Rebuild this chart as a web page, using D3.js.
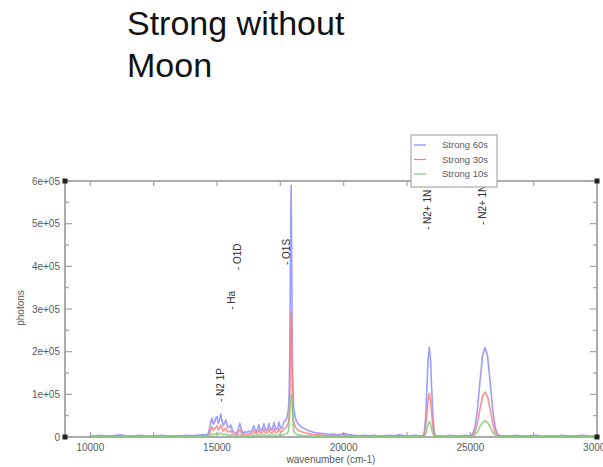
<!DOCTYPE html>
<html>
<head>
<meta charset="utf-8">
<script src="https://cdn.jsdelivr.net/npm/d3@7"></script>
<style>
  html, body { margin: 0; padding: 0; background: #fff; }
  svg { display: block; font-family: "Liberation Sans", Arial, sans-serif; }
</style>
</head>
<body>
<svg id="chart" width="603" height="467"></svg>
<script>
// Spectrum sample positions (cm-1)
const wavenumbers = [
  10000,10200,10400,10600,10800,11000,11200,11400,11600,11800,12000,12200,12400,12600,12800,13000,13200,13400,13600,13800,14000,14200,14400,14600,
  14650,14700,14750,14800,14850,14900,14950,15000,15050,15100,15150,15200,15250,15300,15350,15400,15450,15500,15550,15600,15650,15700,15750,15800,15850,15900,15950,
  16000,16050,16100,16150,16200,16250,16300,16350,16400,16450,16500,16550,16600,16650,16700,16750,16800,16850,16900,16950,17000,17050,17100,17150,17200,17250,17300,17350,17400,17450,17500,17550,17600,17650,
  17700,17750,17800,17825,17850,17875,17900,17925,17950,17975,18000,18025,18050,18100,18150,18200,18300,
  18400,18600,18800,19000,19200,19400,19600,19800,20000,20200,20400,20600,20800,21000,21200,21400,21600,21800,22000,22200,22400,22600,22800,23000,
  23130,23180,23230,23280,23330,23380,23430,23480,23530,23580,23630,
  23800,24000,24200,24400,24600,24800,
  24980,25080,25180,25280,25380,25480,25580,25680,25780,25880,25980,26080,26180,
  26400,26600,26800,27000,27200,27400,27600,27800,28000,28200,28400,28600,28800,29000,29200,29400,29600,29800,30000
];

// Counts in thousands of photons
const strong60s = [
  3,2,4,3,2,4,5,3,2,3,4,3,2,3,4,3,2,3,3,4,3,4,5,6,
  8,18,34,44,30,34,44,48,32,40,54,38,27,33,40,27,22,24,28,17,12,10,9,12,22,32,21,
  11,9,13,10,12,14,11,13,18,26,17,13,19,29,18,14,20,31,19,15,21,32,20,16,22,34,21,17,23,35,22,20,28,36,
  38,44,58,72,105,200,420,590,410,190,105,72,58,44,36,31,25,
  21,15,11,9,8,6,7,5,8,6,4,3,4,3,4,2,3,4,3,5,3,3,4,3,
  3,10,40,105,180,210,180,105,40,10,3,
  3,2,4,3,3,4,
  3,6,22,65,130,190,210,190,130,65,22,6,3,
  3,2,4,3,2,3,4,2,3,3,2,4,3,2,3,4,3,2,3
];

const strong30s = [
  2,1,2,2,1,2,2,2,1,2,2,1,2,2,2,1,2,2,2,2,2,2,3,3,
  4,9,17,24,16,18,23,26,17,21,28,20,14,17,21,14,12,13,15,9,6,5,5,6,12,17,11,
  6,5,7,5,6,8,6,7,10,15,9,7,11,17,10,8,11,18,11,9,12,19,11,9,12,19,12,10,13,20,13,12,16,20,
  21,24,31,38,55,100,215,295,205,95,52,37,30,23,19,16,13,
  11,8,6,5,4,3,4,3,4,3,2,2,3,2,2,1,2,2,2,3,2,2,2,2,
  2,5,20,52,88,102,86,50,19,5,2,
  2,1,2,2,1,2,
  2,4,11,33,66,95,105,95,66,33,11,4,2,
  2,1,2,2,1,2,2,1,2,1,1,2,2,1,2,2,1,1,2
];

const strong10s = [
  1,1,1,1,1,1,1,1,1,1,1,1,1,1,1,1,1,1,1,1,1,1,1,1,
  2,3,6,8,5,6,8,9,6,7,10,7,5,6,7,5,4,4,5,3,2,2,2,2,4,6,4,
  2,2,2,2,2,3,2,2,3,5,3,2,4,6,3,3,4,6,4,3,4,6,4,3,4,7,4,3,4,7,4,4,5,6,
  7,8,11,16,30,62,88,98,86,58,30,16,11,8,6,5,4,
  3,3,2,2,2,1,2,1,2,1,1,1,1,1,1,1,1,1,1,1,1,1,1,1,
  1,2,6,17,30,36,30,16,6,2,1,
  1,1,1,1,1,1,
  1,2,5,12,24,34,38,34,24,12,5,2,1,
  1,1,1,1,1,1,1,1,1,1,1,1,1,1,1,1,1,1,1
];

const seriesNames = ["Strong 60s", "Strong 30s", "Strong 10s"];
const seriesColors = ["#8d8cff", "#ff7d7d", "#7fcf7f"];

// Emission line labels: text, wavenumber of the label, height (thousands of photons) where text starts
const lineLabels = ["- N2 1P", "- Ha", "- O1D", "- O1S", "- N2+ 1N", "- N2+ 1N"];
const lineLabelWavenumbers = [15257, 15730, 15928, 17862, 23467, 25638];
const lineLabelHeights = [82, 298, 391, 403, 485, 497];

const xTickValues = [10000, 15000, 20000, 25000, 30000];
const xTickLabels = ["10000", "15000", "20000", "25000", "30000"];
const yTickValues = [0, 100, 200, 300, 400, 500, 600];
const yTickLabels = ["0", "1e+05", "2e+05", "3e+05", "4e+05", "5e+05", "6e+05"];

const titleLines = ["Strong without", "Moon"];

// ---- layout ----
const svg = d3.select("#chart");
const plot = { left: 65, right: 597, top: 181, bottom: 437 };
const axisColor = "#a3a3a3";
const textColor = "#5a5a5a";

const x = d3.scaleLinear().domain([9000, 30000]).range([plot.left, plot.right]);
const y = d3.scaleLinear().domain([0, 600]).range([plot.bottom, plot.top]);

// Title
svg.append("g")
  .selectAll("text")
  .data(titleLines)
  .join("text")
  .attr("x", 127)
  .attr("y", (d, i) => 35 + i * 42)
  .attr("font-size", 34)
  .attr("fill", "#111")
  .text(d => d);

// Frame and inward ticks
const frame = svg.append("g");
frame.append("rect")
  .attr("x", plot.left).attr("y", plot.top)
  .attr("width", plot.right - plot.left).attr("height", plot.bottom - plot.top)
  .attr("fill", "none").attr("stroke", axisColor).attr("stroke-width", 1.8);

const xMinorTicks = d3.range(10000, 30000, 2500);
frame.selectAll(".xt-b").data(xMinorTicks).join("line")
  .attr("x1", d => x(d)).attr("x2", d => x(d))
  .attr("y1", plot.bottom).attr("y2", plot.bottom - 5)
  .attr("stroke", axisColor).attr("stroke-width", 1.2);
frame.selectAll(".xt-t").data(xMinorTicks).join("line")
  .attr("x1", d => x(d)).attr("x2", d => x(d))
  .attr("y1", plot.top).attr("y2", plot.top + 5)
  .attr("stroke", axisColor).attr("stroke-width", 1.2);

const yAllTicks = d3.range(0, 601, 50);
[plot.left, plot.right].forEach((edge, side) => {
  const dir = side === 0 ? 1 : -1;
  frame.append("g").selectAll("line").data(yAllTicks).join("line")
    .attr("x1", edge)
    .attr("x2", d => edge + dir * (d % 100 === 0 ? 7 : 4))
    .attr("y1", d => y(d)).attr("y2", d => y(d))
    .attr("stroke", axisColor).attr("stroke-width", 1.2);
});

// Tick labels
svg.append("g").selectAll("text").data(xTickValues).join("text")
  .attr("x", d => x(d)).attr("y", 451)
  .attr("text-anchor", "middle").attr("font-size", 10).attr("fill", textColor)
  .text((d, i) => xTickLabels[i]);

svg.append("g").selectAll("text").data(yTickValues).join("text")
  .attr("x", 60).attr("y", d => y(d)).attr("dy", "0.35em")
  .attr("text-anchor", "end").attr("font-size", 10).attr("fill", textColor)
  .text((d, i) => yTickLabels[i]);

// Axis titles
svg.append("text")
  .attr("transform", "translate(23.5,308) rotate(-90)")
  .attr("text-anchor", "middle").attr("font-size", 10).attr("fill", textColor)
  .text("photons");
svg.append("text")
  .attr("x", 331).attr("y", 463)
  .attr("text-anchor", "middle").attr("font-size", 10).attr("fill", textColor)
  .text("wavenumber (cm-1)");

// Spectra
const seriesValues = [strong60s, strong30s, strong10s];
const line = d3.line()
  .x((d, i) => x(wavenumbers[i]))
  .y(d => y(d));

svg.append("g").selectAll("path").data(seriesValues).join("path")
  .attr("d", d => line(d))
  .attr("fill", "none")
  .attr("stroke", (d, i) => seriesColors[i])
  .attr("stroke-width", 1.6)
  .attr("stroke-linejoin", "round")
  .attr("opacity", 0.85);

// Line identifications
svg.append("g").selectAll("text").data(lineLabels).join("text")
  .attr("transform", (d, i) => `translate(${x(lineLabelWavenumbers[i])},${y(lineLabelHeights[i])}) rotate(-90)`)
  .attr("font-size", 10).attr("fill", "#333")
  .text(d => d);

// Corner markers
const corners = [[plot.left, plot.top], [plot.right, plot.top], [plot.left, plot.bottom], [plot.right, plot.bottom]];
svg.append("g").selectAll("rect").data(corners).join("rect")
  .attr("x", d => d[0] - 2.5).attr("y", d => d[1] - 2.5)
  .attr("width", 5).attr("height", 5).attr("fill", "#222");

// Legend
const legend = svg.append("g").attr("transform", "translate(411,135)");
legend.append("rect")
  .attr("width", 86).attr("height", 52)
  .attr("fill", "#fff").attr("stroke", "#9a9a9a").attr("stroke-width", 1);
const entries = legend.selectAll("g").data(seriesNames).join("g")
  .attr("transform", (d, i) => `translate(0,${10 + i * 14.5})`);
entries.append("line")
  .attr("x1", 3).attr("x2", 15).attr("y1", 0).attr("y2", 0)
  .attr("stroke", (d, i) => seriesColors[i]).attr("stroke-width", 1.3);
entries.append("text")
  .attr("x", 31).attr("dy", "0.35em")
  .attr("font-size", 9.5).attr("fill", textColor)
  .text(d => d);
</script>
</body>
</html>
